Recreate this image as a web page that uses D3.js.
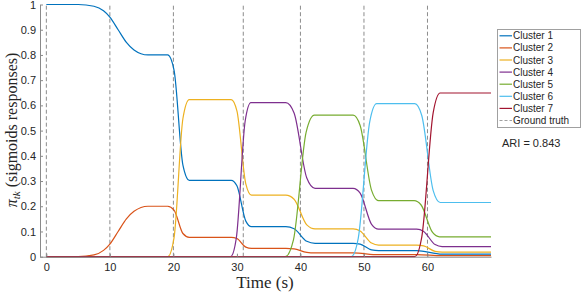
<!DOCTYPE html>
<html>
<head>
<meta charset="utf-8">
<script src="https://cdn.jsdelivr.net/npm/d3@7/dist/d3.min.js"></script>
<style>
  body { margin: 0; background: #fff; }
  svg { display: block; }
  .tick text { font-family: "Liberation Sans", Arial, sans-serif; font-size: 11px; fill: #262626; }
</style>
</head>
<body>
<svg id="chart" width="581" height="292"></svg>
<script>
// points [time (s), pi_tk], joined by a monotone curve
var cluster1 = [[0,1],[5,1],[7.5,0.993],[9,0.975],[10,0.95],[11.3,0.9],[12.6,0.85],[13.8,0.82],[16,0.8],
  [19.1,0.8],[20.1,0.74],[21.5,0.363],[22.5,0.303],
  [29.1,0.303],[30,0.281],[31.4,0.141],[32.3,0.119],
  [37.7,0.119],[39,0.111],[41,0.061],[42.3,0.053],
  [48.3,0.053],[49.4,0.05],[51.2,0.027],[52.3,0.024],
  [58.3,0.024],[62.3,0.01],[70,0.01]];
var cluster2 = [[0,0],[5,0],[7.5,0.007],[9,0.025],[10,0.05],[11.3,0.1],[12.6,0.15],[13.8,0.18],[16,0.2],
  [19.1,0.2],[20.1,0.185],[21.5,0.092],[22.5,0.077],
  [29.1,0.077],[30,0.072],[31.4,0.038],[32.3,0.033],
  [37.7,0.033],[39,0.031],[41,0.017],[42.3,0.015],
  [48.3,0.015],[52.3,0.008],[58.3,0.008],[62.3,0.004],[70,0.004]];
var cluster3 = [[0,0],[19.1,0],[20.1,0.075],[21.5,0.548],[22.5,0.623],
  [29.1,0.623],[30,0.578],[31.4,0.289],[32.3,0.244],
  [37.7,0.244],[39,0.228],[41,0.126],[42.3,0.11],
  [48.3,0.11],[49.4,0.102],[51.2,0.054],[52.3,0.046],
  [58.3,0.046],[59.4,0.043],[61.2,0.021],[62.3,0.018],[70,0.018]];
var cluster4 = [[0,0],[29,0],[29.9,0.073],[31.3,0.538],[32.2,0.611],
  [37.7,0.611],[39,0.57],[41,0.312],[42.3,0.271],
  [48.3,0.271],[49.4,0.252],[51.2,0.128],[52.3,0.109],
  [58.3,0.109],[59.4,0.1],[61.2,0.048],[62.3,0.04],[70,0.04]];
var cluster5 = [[0,0],[37.6,0],[38.9,0.067],[40.9,0.494],[42.2,0.561],
  [48.3,0.561],[49.4,0.52],[51.2,0.263],[52.3,0.222],
  [57.9,0.222],[59,0.205],[60.8,0.096],[61.9,0.079],[70,0.079]];
var cluster6 = [[0,0],[48,0],[49.1,0.073],[50.9,0.534],[52,0.607],
  [58,0.607],[59.1,0.56],[60.9,0.262],[62,0.215],[70,0.215]];
var cluster7 = [[0,0],[58,0],[59.1,0.078],[60.9,0.571],[62,0.649],[70,0.649]];

var seriesNames = ["Cluster 1", "Cluster 2", "Cluster 3", "Cluster 4", "Cluster 5", "Cluster 6", "Cluster 7"];
var seriesColors = ["#0072BD", "#D95319", "#EDB120", "#7E2F8E", "#77AC30", "#4DBEEE", "#A2142F"];
var groundTruth = [0, 10, 20, 31, 40, 50, 60];
var xTicks = [0, 10, 20, 30, 40, 50, 60];
var yTicks = [0, 0.1, 0.2, 0.3, 0.4, 0.5, 0.6, 0.7, 0.8, 0.9, 1];
var ariText = "ARI = 0.843";

var allSeries = [cluster1, cluster2, cluster3, cluster4, cluster5, cluster6, cluster7];

var svg = d3.select("#chart");

var x = d3.scaleLinear().domain([-1, 70]).range([40, 491]);
var y = d3.scaleLinear().domain([0, 1]).range([256.7, 4.5]);

// ground truth dashed lines
svg.append("g")
  .selectAll("line")
  .data(groundTruth)
  .join("line")
  .attr("x1", d => x(d)).attr("x2", d => x(d))
  .attr("y1", y(0)).attr("y2", y(1))
  .attr("stroke", "#8c8c8c")
  .attr("stroke-width", 1)
  .attr("stroke-dasharray", "4,2.5");

var line = d3.line()
  .x(d => x(d[0]))
  .y(d => y(d[1]))
  .curve(d3.curveMonotoneX);

svg.append("g")
  .selectAll("path")
  .data(allSeries)
  .join("path")
  .attr("d", line)
  .attr("fill", "none")
  .attr("stroke", (d, i) => seriesColors[i])
  .attr("stroke-width", 1.2);

// axes (MATLAB style, ticks inside)
var xAxis = svg.append("g")
  .attr("transform", "translate(0," + y(0) + ")")
  .call(d3.axisBottom(x).tickValues(xTicks).tickFormat(d3.format("d")).tickSizeInner(-3).tickSizeOuter(0).tickPadding(7));
xAxis.select(".domain").attr("stroke", "#8a8a8a");
xAxis.selectAll(".tick line").attr("stroke", "#8a8a8a");

var yAxis = svg.append("g")
  .attr("transform", "translate(" + x(-1) + ",0)")
  .call(d3.axisLeft(y).tickValues(yTicks).tickFormat(d => d === 0 || d === 1 ? d3.format("d")(d) : d3.format(".1f")(d)).tickSizeInner(-3).tickSizeOuter(0).tickPadding(4));
yAxis.select(".domain").attr("stroke", "#8a8a8a");
yAxis.selectAll(".tick line").attr("stroke", "#8a8a8a");

// axis labels
svg.append("text")
  .attr("x", 265).attr("y", 288)
  .attr("text-anchor", "middle")
  .attr("font-family", "'Liberation Serif', 'Times New Roman', serif")
  .attr("font-size", 17)
  .attr("fill", "#262626")
  .text("Time (s)");

var ylab = svg.append("text")
  .attr("transform", "translate(17,130) rotate(-90)")
  .attr("text-anchor", "middle")
  .attr("font-family", "'Liberation Serif', 'Times New Roman', serif")
  .attr("font-size", 16)
  .attr("fill", "#262626");
ylab.append("tspan").attr("font-style", "italic").text("π");
ylab.append("tspan").attr("font-style", "italic").attr("font-size", 11).attr("dy", 3).text("tk");
ylab.append("tspan").attr("dy", -3).text(" (sigmoids responses)");

// legend
var legend = svg.append("g").attr("transform", "translate(497.5,29.5)");
legend.append("rect")
  .attr("width", 83).attr("height", 98)
  .attr("fill", "#fff")
  .attr("stroke", "#a0a0a0")
  .attr("stroke-width", 1);

var legendItems = seriesNames.map((n, i) => ({ name: n, color: seriesColors[i], dash: null }));
legendItems.push({ name: "Ground truth", color: "#a0a0a0", dash: "3,2" });

var item = legend.selectAll("g.item")
  .data(legendItems)
  .join("g")
  .attr("class", "item")
  .attr("transform", (d, i) => "translate(0," + (6.3 + i * 12.1) + ")");
item.append("line")
  .attr("x1", 2).attr("x2", 14.5)
  .attr("stroke", d => d.color)
  .attr("stroke-width", 1.2)
  .attr("stroke-dasharray", d => d.dash);
item.append("text")
  .attr("x", 15.5).attr("dy", "0.35em")
  .attr("font-family", "'Liberation Sans', Arial, sans-serif")
  .attr("font-size", 10)
  .attr("fill", "#262626")
  .text(d => d.name);

svg.append("text")
  .attr("x", 502).attr("y", 147)
  .attr("font-family", "'Liberation Sans', Arial, sans-serif")
  .attr("font-size", 11)
  .attr("fill", "#262626")
  .text(ariText);
</script>
</body>
</html>
